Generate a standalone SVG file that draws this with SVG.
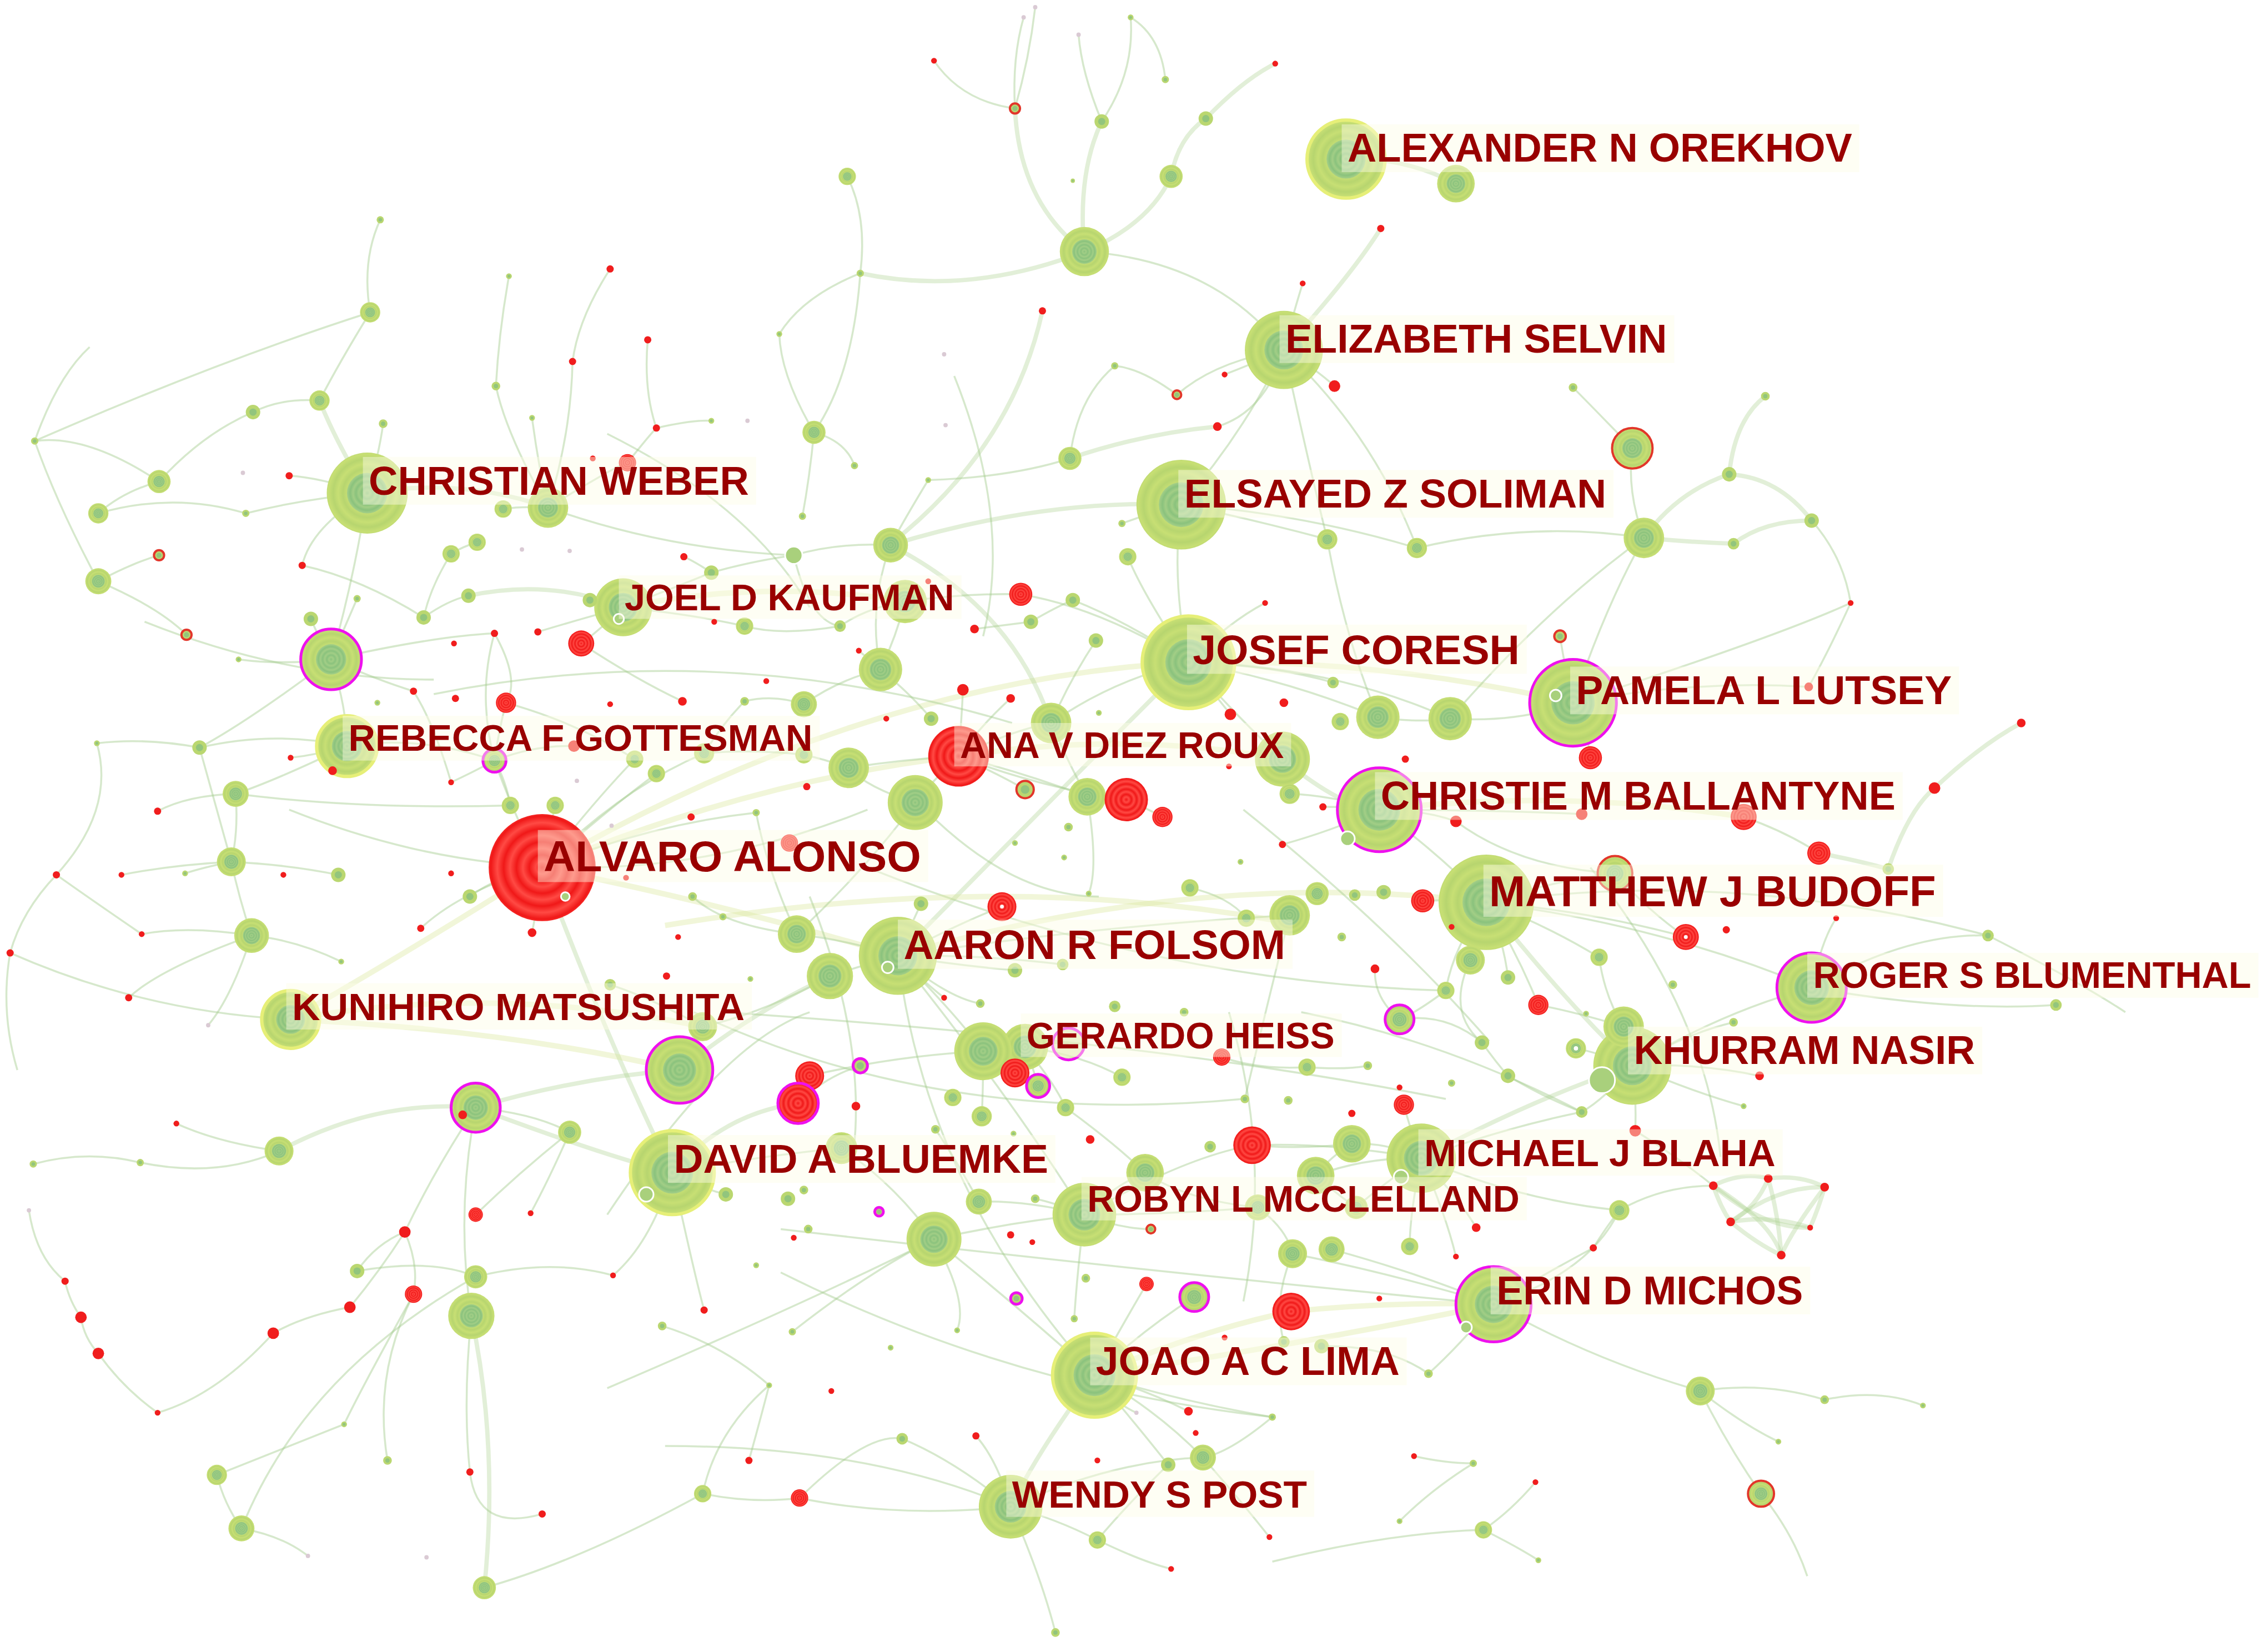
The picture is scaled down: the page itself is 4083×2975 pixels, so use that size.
<svg xmlns="http://www.w3.org/2000/svg" xmlns:xlink="http://www.w3.org/1999/xlink" width="4083" height="2975" viewBox="0 0 4083 2975">
<style>
.e{fill:none;stroke:#a3cb8d;stroke-width:1.35;stroke-opacity:.45}
.w{fill:none;stroke:#aed294;stroke-width:3;stroke-opacity:.36}
.y{fill:none;stroke:#dbe8a0;stroke-width:3.8;stroke-opacity:.4}
.lb{font-family:"Liberation Sans",Arial,sans-serif;font-weight:700;fill:#990000}
.bg{fill:#fcfce6;opacity:.45}
</style>
<defs>
<radialGradient id="go" r="0.06" spreadMethod="reflect"><stop offset="0" stop-color="#c7df74"/><stop offset="1" stop-color="#b7d56f"/></radialGradient>
<radialGradient id="gi" r="0.07" spreadMethod="reflect"><stop offset="0" stop-color="#8ac27d"/><stop offset="1" stop-color="#a2ce86"/></radialGradient>
<radialGradient id="rg" r="0.06" spreadMethod="reflect"><stop offset="0" stop-color="#f01818"/><stop offset="1" stop-color="#ff4a44"/></radialGradient>
<g id="G"><circle r="1" fill="url(#go)"/><circle r=".5" fill="url(#gi)"/></g>
<g id="g"><circle r="1" fill="#bad770"/><circle r=".5" fill="#92c57d"/></g>
<g id="R"><circle r="1" fill="url(#rg)"/></g>
<g id="r"><circle r="1" fill="#f01d1d"/></g>
<g id="M"><circle r="1" fill="none" stroke="#ee11ee" stroke-width="5" vector-effect="non-scaling-stroke"/></g>
<g id="O"><circle r="1" fill="none" stroke="#e2362a" stroke-width="4" vector-effect="non-scaling-stroke"/></g>
<g id="Y"><circle r="1" fill="none" stroke="#e6ef78" stroke-width="6" vector-effect="non-scaling-stroke"/></g>
<g id="W"><circle r="1" fill="#a9d07c" stroke="#ffffff" stroke-width="3" vector-effect="non-scaling-stroke"/></g>
<g id="P"><circle r="1" fill="#dacad4"/></g>
</defs>
<rect width="4083" height="2975" fill="#ffffff"/>
<g transform="scale(2.604)">
<g id="edges">
<path class="w" d="M750,174 Q705,140 702,75"/><path class="e" d="M702,75 Q665,70 646,42"/><path class="e" d="M702,75 Q700,40 708,12"/><path class="e" d="M702,75 Q712,40 716,5"/>
<path class="w" d="M750,174 Q745,120 762,84"/><path class="e" d="M762,84 Q748,50 746,24"/><path class="e" d="M762,84 Q785,50 782,12"/><path class="e" d="M782,12 Q803,25 806,55"/>
<path class="w" d="M750,174 Q795,155 810,122"/><path class="w" d="M810,122 Q815,95 834,82"/><path class="w" d="M834,82 Q860,55 882,44"/>
<path class="w" d="M750,174 Q670,205 595,189"/><path class="e" d="M595,189 Q600,150 586,122"/><path class="e" d="M595,189 Q555,205 539,231"/>
<path class="e" d="M750,174 Q840,180 888,242"/><path class="w" d="M721,215 Q700,310 616,376"/><path class="w" d="M888,242 Q935,190 955,158"/>
<path class="e" d="M888,242 Q895,215 901,196"/><path class="e" d="M888,242 Q875,285 842,295"/><path class="w" d="M842,295 Q790,300 740,317"/>
<path class="e" d="M888,242 Q910,255 923,267"/><path class="e" d="M888,242 Q840,250 814,273"/><path class="e" d="M814,273 Q790,255 771,253"/>
<path class="e" d="M771,253 Q745,275 740,317"/><path class="e" d="M888,242 Q860,300 817,349"/><path class="e" d="M888,242 Q905,320 918,373"/>
<path class="e" d="M888,242 Q950,300 980,379"/><path class="e" d="M888,242 Q870,250 847,259"/><path class="w" d="M817,349 Q720,345 616,377"/>
<path class="e" d="M563,299 Q540,260 539,231"/><path class="e" d="M563,299 Q560,330 555,357"/><path class="e" d="M563,299 Q585,305 591,322"/>
<path class="e" d="M642,332 Q625,360 616,377"/><path class="e" d="M616,377 Q580,375 549,384"/><path class="w" d="M931,110 Q970,108 1007,127"/>
<path class="e" d="M563,299 Q590,260 595,189"/><path class="e" d="M740,317 Q700,330 642,332"/>
<path class="w" d="M254,341 Q232,305 221,277"/><path class="e" d="M221,277 Q195,275 175,285"/><path class="e" d="M175,285 Q140,300 110,333"/>
<path class="e" d="M110,333 Q60,300 24,305"/><path class="e" d="M110,333 Q85,340 68,355"/><path class="e" d="M68,355 Q120,340 170,355"/>
<path class="e" d="M170,355 Q210,345 254,341"/><path class="e" d="M254,341 Q262,315 265,293"/><path class="e" d="M254,341 Q220,330 200,329"/>
<path class="w" d="M254,341 Q320,330 379,351"/><path class="e" d="M379,351 Q350,300 343,267"/><path class="e" d="M379,351 Q395,300 396,250"/>
<path class="e" d="M379,351 Q360,350 348,352"/><path class="e" d="M254,341 Q245,400 229,456"/><path class="e" d="M254,341 Q215,365 209,391"/>
<path class="e" d="M68,402 Q90,390 110,384"/><path class="e" d="M68,402 Q110,420 129,439"/><path class="e" d="M68,402 Q40,350 24,305"/>
<path class="e" d="M256,216 Q235,250 221,277"/><path class="e" d="M263,152 Q250,180 256,216"/><path class="e" d="M352,191 Q345,230 343,267"/>
<path class="e" d="M422,186 Q400,220 396,250"/><path class="e" d="M379,351 Q430,320 434,320"/><path class="e" d="M434,320 Q450,300 454,296"/>
<path class="e" d="M454,296 Q480,290 492,291"/><path class="e" d="M448,235 Q445,270 454,296"/><path class="e" d="M368,289 Q372,320 379,351"/>
<path class="e" d="M229,456 Q195,460 165,456"/><path class="e" d="M229,456 Q240,430 247,414"/><path class="e" d="M229,456 Q220,440 215,428"/>
<path class="e" d="M229,456 Q260,470 286,478"/><path class="e" d="M229,456 Q240,490 240,516"/><path class="e" d="M293,427 Q310,415 324,412"/>
<path class="w" d="M324,412 Q380,400 431,420"/><path class="e" d="M431,420 Q415,415 408,415"/><path class="e" d="M431,420 Q412,438 402,445"/>
<path class="e" d="M431,420 Q395,430 372,437"/><path class="e" d="M431,420 Q480,425 515,433"/><path class="e" d="M431,420 Q470,405 492,396"/>
<path class="e" d="M330,375 Q320,378 312,383"/><path class="e" d="M312,383 Q298,405 293,427"/><path class="e" d="M209,391 Q250,400 293,427"/>
<path class="e" d="M342,438 Q360,470 350,486"/><path class="y" d="M431,420 Q530,400 626,416"/>
<path class="e" d="M240,516 Q290,508 342,526"/><path class="e" d="M240,516 Q190,505 138,517"/><path class="e" d="M138,517 Q100,510 67,514"/>
<path class="e" d="M240,516 Q220,522 201,524"/><path class="e" d="M240,516 Q190,540 163,549"/><path class="e" d="M163,549 Q130,550 109,561"/>
<path class="e" d="M163,549 Q165,575 160,596"/><path class="e" d="M342,526 Q350,540 353,557"/><path class="e" d="M342,526 Q358,570 375,600"/>
<path class="e" d="M342,526 Q325,535 312,541"/><path class="e" d="M342,526 Q370,515 397,516"/><path class="e" d="M342,526 Q345,505 350,486"/>
<path class="e" d="M342,526 Q330,480 342,438"/><path class="e" d="M375,600 Q380,575 384,557"/><path class="e" d="M375,600 Q410,555 439,525"/>
<path class="e" d="M375,600 Q420,560 454,535"/><path class="e" d="M375,600 Q430,545 487,521"/><path class="e" d="M375,600 Q450,570 523,562"/>
<path class="y" d="M375,600 Q500,625 621,661"/><path class="w" d="M375,600 Q420,720 465,811"/><path class="e" d="M375,600 Q372,625 368,645"/>
<path class="e" d="M375,600 Q320,615 291,642"/><path class="e" d="M375,600 Q345,605 325,620"/><path class="y" d="M375,600 Q280,660 201,705"/>
<path class="y" d="M375,600 Q520,540 663,523"/><path class="y" d="M375,600 Q600,470 822,458"/>
<path class="e" d="M160,596 Q120,598 84,605"/><path class="e" d="M160,596 Q140,600 128,604"/><path class="e" d="M160,596 Q200,598 234,605"/>
<path class="e" d="M39,605 Q15,630 7,659"/><path class="e" d="M174,647 Q130,640 98,646"/><path class="e" d="M174,647 Q110,670 89,690"/>
<path class="e" d="M174,647 Q160,690 144,709"/><path class="e" d="M174,647 Q205,650 236,665"/><path class="e" d="M98,646 Q60,620 39,605"/>
<path class="e" d="M160,596 Q165,620 174,647"/><path class="y" d="M201,705 Q340,680 486,710"/><path class="y" d="M201,705 Q350,712 470,740"/>
<path class="e" d="M486,710 Q475,725 470,740"/><path class="w" d="M470,740 Q400,745 329,766"/><path class="w" d="M329,766 Q260,760 193,796"/>
<path class="e" d="M193,796 Q150,790 122,777"/><path class="e" d="M193,796 Q150,815 97,804"/><path class="e" d="M97,804 Q60,795 23,805"/>
<path class="e" d="M329,766 Q370,770 394,783"/><path class="e" d="M394,783 Q380,815 367,839"/><path class="e" d="M394,783 Q360,810 329,840"/>
<path class="e" d="M329,766 Q315,840 326,910"/><path class="e" d="M329,766 Q300,810 280,852"/><path class="e" d="M280,852 Q260,860 247,879"/>
<path class="e" d="M280,852 Q262,880 242,904"/><path class="e" d="M280,852 Q290,875 286,895"/><path class="e" d="M242,904 Q210,910 189,922"/>
<path class="e" d="M189,922 Q150,965 109,977"/><path class="e" d="M109,977 Q85,960 68,936"/><path class="e" d="M68,936 Q58,925 56,911"/>
<path class="e" d="M56,911 Q48,900 45,886"/><path class="e" d="M45,886 Q25,870 20,837"/><path class="w" d="M326,910 Q345,1000 335,1098"/>
<path class="e" d="M326,910 Q320,970 325,1018"/><path class="e" d="M325,1018 Q330,1060 375,1047"/><path class="e" d="M167,1057 Q155,1040 150,1020"/>
<path class="e" d="M167,1057 Q195,1062 213,1076"/><path class="e" d="M167,1057 Q210,950 329,883"/><path class="e" d="M268,1010 Q258,950 286,895"/>
<path class="e" d="M329,883 Q380,870 424,882"/><path class="e" d="M424,882 Q450,860 465,811"/><path class="e" d="M465,811 Q485,822 502,826"/>
<path class="e" d="M465,811 Q480,880 487,906"/><path class="e" d="M458,917 Q500,930 532,958"/><path class="e" d="M532,958 Q495,990 486,1033"/>
<path class="e" d="M518,1010 Q525,985 532,958"/><path class="e" d="M247,879 Q300,870 329,883"/><path class="e" d="M238,985 Q250,960 286,895"/>
<path class="e" d="M621,661 Q595,668 574,675"/><path class="e" d="M621,661 Q585,650 551,646"/><path class="e" d="M621,661 Q630,640 637,625"/>
<path class="e" d="M621,661 Q660,640 693,627"/><path class="e" d="M621,661 Q665,668 702,671"/><path class="e" d="M621,661 Q680,660 735,667"/>
<path class="e" d="M621,661 Q640,680 653,690"/><path class="e" d="M621,661 Q655,690 678,694"/><path class="e" d="M621,661 Q660,700 680,727"/>
<path class="w" d="M621,661 Q720,560 822,458"/><path class="y" d="M621,661 Q830,600 1028,624"/><path class="e" d="M621,661 Q700,760 750,840"/>
<path class="e" d="M621,661 Q640,820 757,951"/><path class="e" d="M621,661 Q760,640 892,633"/>
<path class="e" d="M709,724 Q725,720 739,722"/><path class="e" d="M709,724 Q700,735 702,742"/><path class="e" d="M709,724 Q715,740 718,751"/>
<path class="e" d="M709,724 Q730,750 737,766"/><path class="e" d="M709,724 Q750,730 776,745"/><path class="e" d="M680,727 Q680,755 679,772"/>
<path class="e" d="M680,727 Q620,730 560,744"/><path class="e" d="M560,744 Q555,752 552,763"/><path class="w" d="M552,763 Q500,770 465,811"/>
<path class="e" d="M595,737 Q570,745 552,763"/>
<path class="e" d="M750,840 Q770,820 792,811"/><path class="e" d="M750,840 Q730,832 716,829"/><path class="e" d="M750,840 Q775,850 796,850"/>
<path class="e" d="M750,840 Q745,880 743,912"/><path class="e" d="M750,840 Q700,845 646,857"/><path class="e" d="M750,840 Q710,830 677,831"/>
<path class="e" d="M750,840 Q820,800 866,792"/><path class="e" d="M750,840 Q810,840 870,835"/>
<path class="w" d="M757,951 Q720,1000 699,1042"/><path class="e" d="M757,951 Q800,975 832,1008"/><path class="e" d="M757,951 Q790,990 808,1013"/>
<path class="e" d="M757,951 Q790,960 822,976"/><path class="e" d="M757,951 Q770,970 786,977"/><path class="e" d="M757,951 Q820,970 880,980"/>
<path class="e" d="M757,951 Q790,920 826,897"/><path class="e" d="M757,951 Q780,910 793,888"/><path class="y" d="M757,951 Q830,920 893,907"/>
<path class="e" d="M757,951 Q700,900 646,857"/><path class="e" d="M699,1042 Q730,1050 759,1065"/><path class="e" d="M699,1042 Q620,1050 553,1036"/>
<path class="e" d="M699,1042 Q690,1010 675,993"/><path class="e" d="M699,1042 Q720,1090 730,1129"/><path class="e" d="M699,1042 Q770,1010 832,1008"/>
<path class="e" d="M832,1008 Q860,1040 878,1063"/><path class="e" d="M759,1065 Q790,1080 810,1085"/>
<path class="e" d="M983,801 Q945,800 910,813"/><path class="e" d="M983,801 Q960,790 935,791"/><path class="e" d="M983,801 Q975,780 971,764"/>
<path class="e" d="M983,801 Q1010,830 1021,849"/><path class="e" d="M983,801 Q1000,840 1007,869"/><path class="e" d="M983,801 Q975,840 975,862"/>
<path class="e" d="M983,801 Q955,820 938,835"/><path class="e" d="M983,801 Q1040,780 1094,769"/><path class="w" d="M983,801 Q1060,760 1129,737"/>
<path class="e" d="M983,801 Q1050,830 1120,837"/><path class="e" d="M983,801 Q920,790 866,792"/>
<path class="e" d="M1033,902 Q1070,880 1102,863"/><path class="e" d="M1033,902 Q960,880 894,867"/><path class="e" d="M1033,902 Q980,880 921,864"/>
<path class="e" d="M1033,902 Q1010,930 988,950"/><path class="e" d="M1033,902 Q1100,940 1176,962"/><path class="y" d="M1033,902 Q960,900 893,907"/>
<path class="y" d="M1033,902 Q900,930 757,951"/>
<path class="e" d="M1028,624 Q1005,622 984,623"/><path class="e" d="M1028,624 Q1020,645 1017,664"/><path class="e" d="M1028,624 Q1040,650 1043,676"/>
<path class="e" d="M1028,624 Q1005,655 1000,685"/><path class="e" d="M1028,624 Q1050,660 1064,695"/><path class="e" d="M1028,624 Q1070,640 1106,662"/>
<path class="e" d="M1028,624 Q1070,610 1117,604"/><path class="e" d="M1028,624 Q1100,630 1166,648"/><path class="w" d="M1028,624 Q1080,690 1129,737"/>
<path class="e" d="M1028,624 Q1150,640 1253,683"/><path class="e" d="M1253,683 Q1320,645 1375,647"/><path class="e" d="M1253,683 Q1350,700 1422,695"/>
<path class="e" d="M1253,683 Q1260,650 1270,635"/>
<path class="e" d="M1129,737 Q1125,722 1123,710"/><path class="e" d="M1129,737 Q1115,745 1108,747"/><path class="e" d="M1129,737 Q1105,728 1090,725"/>
<path class="e" d="M1129,737 Q1110,760 1094,769"/><path class="e" d="M1129,737 Q1132,760 1131,782"/><path class="e" d="M1129,737 Q1175,735 1217,744"/>
<path class="e" d="M1129,737 Q1170,755 1206,765"/><path class="e" d="M1129,737 Q1165,715 1199,707"/><path class="e" d="M1129,737 Q1190,700 1253,683"/>
<path class="w" d="M1185,820 Q1205,810 1223,815"/><path class="w" d="M1223,815 Q1245,812 1262,821"/><path class="w" d="M1185,820 Q1190,835 1197,845"/>
<path class="w" d="M1197,845 Q1225,840 1252,849"/><path class="w" d="M1223,815 Q1230,840 1232,868"/><path class="w" d="M1197,845 Q1215,860 1232,868"/>
<path class="w" d="M1185,820 Q1220,850 1252,849"/><path class="w" d="M1262,821 Q1240,850 1232,868"/><path class="w" d="M1223,815 Q1215,835 1197,845"/>
<path class="w" d="M1185,820 Q1225,845 1232,868"/><path class="w" d="M1262,821 Q1258,835 1252,849"/><path class="w" d="M1197,845 Q1230,820 1262,821"/>
<path class="e" d="M1131,782 Q1160,800 1185,820"/><path class="e" d="M1120,837 Q1150,820 1185,820"/><path class="e" d="M1102,863 Q1110,850 1120,837"/>
<path class="e" d="M1176,962 Q1220,955 1262,968"/><path class="e" d="M1262,968 Q1300,960 1330,972"/><path class="e" d="M1176,962 Q1205,985 1230,997"/>
<path class="e" d="M1176,962 Q1195,1000 1218,1033"/><path class="e" d="M1218,1033 Q1240,1060 1250,1090"/>
<path class="e" d="M822,458 Q770,470 727,500"/><path class="e" d="M822,458 Q840,480 851,494"/><path class="e" d="M822,458 Q850,430 875,417"/>
<path class="e" d="M822,458 Q860,500 887,525"/><path class="e" d="M822,458 Q890,470 953,496"/><path class="e" d="M822,458 Q920,460 1003,497"/>
<path class="y" d="M822,458 Q950,455 1088,486"/><path class="e" d="M822,458 Q880,460 922,472"/><path class="e" d="M822,458 Q810,400 817,349"/>
<path class="e" d="M822,458 Q780,430 742,415"/><path class="e" d="M822,458 Q760,420 706,411"/><path class="e" d="M822,458 Q790,410 780,385"/>
<path class="e" d="M1088,486 Q1082,460 1079,440"/><path class="e" d="M1088,486 Q1098,505 1100,524"/><path class="e" d="M1088,486 Q1110,420 1137,372"/>
<path class="e" d="M1088,486 Q1170,470 1251,475"/><path class="e" d="M1088,486 Q1230,440 1280,417"/><path class="e" d="M1137,372 Q1125,340 1129,310"/>
<path class="w" d="M1137,372 Q1160,340 1196,328"/><path class="w" d="M1137,372 Q1170,375 1199,376"/><path class="w" d="M1196,328 Q1200,290 1221,274"/>
<path class="w" d="M1196,328 Q1230,330 1253,360"/><path class="w" d="M1199,376 Q1220,360 1253,360"/><path class="e" d="M1129,310 Q1100,280 1088,268"/>
<path class="e" d="M1253,360 Q1275,385 1280,417"/><path class="e" d="M1280,417 Q1265,450 1251,475"/>
<path class="e" d="M954,560 Q985,560 1007,568"/><path class="e" d="M954,560 Q940,575 932,580"/><path class="e" d="M954,560 Q920,550 892,549"/>
<path class="e" d="M954,560 Q935,558 915,558"/><path class="e" d="M954,560 Q1030,560 1094,563"/><path class="y" d="M954,560 Q1080,545 1206,565"/>
<path class="e" d="M954,560 Q920,575 887,584"/><path class="e" d="M954,560 Q995,590 1028,624"/><path class="e" d="M1206,565 Q1235,575 1258,590"/>
<path class="w" d="M1258,590 Q1285,595 1306,601"/><path class="w" d="M1306,601 Q1320,560 1338,545"/><path class="w" d="M1338,545 Q1370,515 1398,500"/>
<path class="e" d="M663,523 Q625,525 587,531"/><path class="e" d="M663,523 Q645,540 633,555"/><path class="e" d="M663,523 Q690,535 709,546"/>
<path class="e" d="M663,523 Q710,535 752,551"/><path class="e" d="M663,523 Q720,545 779,553"/><path class="e" d="M663,523 Q700,505 727,500"/>
<path class="e" d="M663,523 Q680,500 699,483"/><path class="e" d="M663,523 Q665,500 666,477"/><path class="y" d="M663,523 Q780,505 887,525"/>
<path class="e" d="M779,553 Q795,560 804,565"/><path class="e" d="M752,551 Q765,550 779,553"/>
<path class="e" d="M817,349 Q900,355 980,379"/><path class="e" d="M817,349 Q870,360 918,373"/><path class="e" d="M817,349 Q795,355 776,362"/>
<path class="e" d="M980,379 Q1060,360 1137,372"/><path class="e" d="M918,373 Q930,440 953,496"/><path class="e" d="M1003,497 Q1070,420 1137,372"/>
<path class="e" d="M549,384 Q520,388 492,396"/><path class="e" d="M492,396 Q480,388 473,385"/><path class="e" d="M609,463 Q620,440 626,416"/>
<path class="e" d="M609,463 Q600,455 594,450"/><path class="e" d="M609,463 Q630,480 644,497"/><path class="e" d="M609,463 Q580,470 556,487"/>
<path class="e" d="M556,487 Q535,480 515,485"/><path class="e" d="M515,485 Q500,500 487,521"/><path class="e" d="M487,521 Q520,518 556,522"/>
<path class="e" d="M556,522 Q570,525 587,531"/><path class="e" d="M626,416 Q670,410 706,411"/><path class="e" d="M742,415 Q730,420 713,430"/>
<path class="e" d="M713,430 Q690,433 674,435"/><path class="e" d="M758,443 Q740,470 727,500"/>
<path class="e" d="M24,305 Q150,250 256,216"/><path class="e" d="M7,659 Q100,700 201,705"/><path class="e" d="M67,514 Q80,560 39,605"/>
<path class="e" d="M300,480 Q500,440 700,500"/><path class="e" d="M200,560 Q400,640 600,560"/><path class="e" d="M480,700 Q650,780 860,760"/>
<path class="e" d="M600,600 Q800,680 1000,685"/><path class="e" d="M900,700 Q1000,720 1094,769"/><path class="e" d="M540,880 Q700,960 880,980"/>
<path class="e" d="M420,960 Q560,900 646,857"/><path class="e" d="M460,1000 Q600,1000 699,1042"/><path class="y" d="M460,640 Q700,600 900,640"/>
<path class="e" d="M500,700 Q800,720 1000,760"/><path class="e" d="M540,850 Q800,880 1033,902"/><path class="e" d="M1028,624 Q1200,600 1375,647"/>
<path class="e" d="M1375,647 Q1440,680 1470,700"/><path class="e" d="M880,1080 Q960,1060 1026,1058"/><path class="e" d="M968,1052 Q990,1030 1019,1012"/>
<path class="e" d="M1026,1058 Q1050,1070 1064,1079"/><path class="e" d="M978,1007 Q1000,1012 1019,1012"/><path class="e" d="M1062,1025 Q1045,1045 1026,1058"/>
<path class="e" d="M100,430 Q200,470 300,470"/><path class="e" d="M420,300 Q520,350 560,420"/><path class="e" d="M660,260 Q700,360 680,440"/>
<path class="e" d="M860,560 Q960,640 1030,720"/><path class="e" d="M1100,600 Q1180,700 1190,800"/><path class="e" d="M560,620 Q600,720 590,800"/>
<path class="e" d="M420,840 Q500,720 560,700"/><path class="e" d="M850,700 Q880,800 860,900"/><path class="e" d="M640,560 Q700,620 760,620"/>
<path class="e" d="M379,351 Q460,380 549,384"/><path class="e" d="M616,377 Q600,420 609,463"/><path class="e" d="M549,384 Q560,430 581,433"/>
<path class="e" d="M581,433 Q600,420 626,416"/><path class="e" d="M515,433 Q540,440 581,433"/><path class="e" d="M402,445 Q440,470 472,485"/>
<path class="e" d="M350,486 Q400,500 439,525"/><path class="e" d="M286,478 Q300,500 312,541"/><path class="e" d="M163,549 Q250,560 353,557"/>
<path class="e" d="M138,517 Q150,560 160,596"/><path class="e" d="M229,456 Q170,500 138,517"/><path class="e" d="M229,456 Q300,440 342,438"/>
<path class="e" d="M551,646 Q530,600 523,562"/><path class="e" d="M574,675 Q530,700 486,710"/><path class="e" d="M551,646 Q500,640 479,620"/>
<path class="e" d="M486,710 Q450,690 422,681"/><path class="e" d="M465,811 Q520,800 582,794"/><path class="e" d="M582,794 Q620,820 646,857"/>
<path class="e" d="M646,857 Q600,880 548,921"/><path class="e" d="M646,857 Q670,900 662,920"/><path class="e" d="M677,831 Q660,800 647,781"/>
<path class="e" d="M737,766 Q770,790 792,811"/><path class="e" d="M792,811 Q820,830 870,835"/><path class="e" d="M870,835 Q890,850 894,867"/>
<path class="e" d="M910,813 Q930,830 938,835"/><path class="e" d="M935,791 Q920,800 910,813"/><path class="e" d="M866,792 Q900,795 935,791"/>
<path class="e" d="M845,731 Q870,740 904,738"/><path class="e" d="M904,738 Q930,740 946,737"/><path class="e" d="M892,633 Q880,680 861,760"/>
<path class="e" d="M1017,664 Q1000,700 1025,721"/><path class="e" d="M1025,721 Q1035,735 1043,744"/><path class="e" d="M968,705 Q1000,700 1025,721"/>
<path class="e" d="M968,705 Q950,690 951,670"/><path class="e" d="M1000,685 Q980,700 968,705"/><path class="e" d="M727,500 Q740,530 752,551"/>
<path class="e" d="M633,555 Q600,600 551,646"/><path class="e" d="M587,531 Q600,545 633,555"/><path class="e" d="M752,551 Q760,600 753,618"/>
<path class="e" d="M823,614 Q850,620 862,635"/><path class="e" d="M953,496 Q980,500 1003,497"/><path class="e" d="M1003,497 Q1050,500 1088,486"/>
<path class="e" d="M1007,568 Q1050,600 1117,604"/><path class="e" d="M1117,604 Q1140,630 1166,648"/><path class="e" d="M1106,662 Q1110,690 1123,710"/>
<path class="e" d="M1064,695 Q1090,700 1123,710"/><path class="e" d="M1043,744 Q1070,760 1094,769"/><path class="e" d="M1120,837 Q1100,880 1033,902"/>
<path class="e" d="M894,867 Q880,900 888,928"/><path class="e" d="M914,931 Q960,930 988,950"/><path class="e" d="M832,1008 Q850,1005 880,980"/>
<path class="e" d="M808,1013 Q780,1040 759,1065"/><path class="e" d="M624,995 Q660,1010 699,1042"/><path class="e" d="M553,1036 Q600,990 624,995"/>
<path class="e" d="M486,1033 Q520,1040 553,1036"/><path class="e" d="M335,1098 Q400,1080 486,1033"/><path class="e" d="M150,1020 Q200,1000 238,985"/>
<path class="e" d="M24,305 Q40,260 62,240"/><path class="e" d="M7,659 Q0,700 12,740"/><path class="w" d="M470,740 Q520,700 574,675"/>
<path class="w" d="M329,766 Q420,800 465,811"/><path class="w" d="M616,377 Q700,420 727,500"/><path class="w" d="M887,525 Q930,560 954,560"/>
</g>
<g id="nodes">
<g id="n-orekhov"><use href="#G" transform="translate(931 110) scale(27)"/><use href="#Y" transform="translate(931 110) scale(27)"/></g>
<g id="n-selvin"><use href="#G" transform="translate(888 242) scale(27)"/></g>
<g id="n-weber"><use href="#G" transform="translate(254 341) scale(28)"/></g>
<g id="n-soliman"><use href="#G" transform="translate(817 349) scale(31)"/></g>
<g id="n-kaufman"><use href="#G" transform="translate(431 420) scale(20)"/><use href="#W" transform="translate(428 428) scale(3.5)"/></g>
<g id="n-coresh"><use href="#G" transform="translate(822 458) scale(32)"/><use href="#Y" transform="translate(822 458) scale(32)"/></g>
<g id="n-lutsey"><use href="#G" transform="translate(1088 486) scale(30)"/><use href="#M" transform="translate(1088 486) scale(30)"/><use href="#W" transform="translate(1076 481) scale(4)"/></g>
<g id="n-gottesman"><use href="#G" transform="translate(240 516) scale(21)"/><use href="#Y" transform="translate(240 516) scale(21)"/></g>
<g id="n-diezroux"><use href="#R" transform="translate(663 523) scale(21)"/></g>
<g id="n-ballantyne"><use href="#G" transform="translate(954 560) scale(29)"/><use href="#M" transform="translate(954 560) scale(29)"/><use href="#W" transform="translate(932 580) scale(5)"/></g>
<g id="n-alonso"><use href="#R" transform="translate(375 600) scale(37)"/><use href="#W" transform="translate(391 620) scale(3)"/></g>
<g id="n-budoff"><use href="#G" transform="translate(1028 624) scale(33)"/></g>
<g id="n-folsom"><use href="#G" transform="translate(621 661) scale(27)"/><use href="#W" transform="translate(614 669) scale(4)"/></g>
<g id="n-blumenthal"><use href="#G" transform="translate(1253 683) scale(24)"/><use href="#M" transform="translate(1253 683) scale(24)"/></g>
<g id="n-matsushita"><use href="#G" transform="translate(201 705) scale(20)"/><use href="#Y" transform="translate(201 705) scale(20)"/></g>
<g id="n-heiss"><use href="#G" transform="translate(709 724) scale(16)"/></g>
<g id="n-nasir"><use href="#G" transform="translate(1129 737) scale(27)"/></g>
<g id="n-bluemke"><use href="#G" transform="translate(465 811) scale(29)"/><use href="#Y" transform="translate(465 811) scale(29)"/><use href="#W" transform="translate(447 826) scale(5)"/></g>
<g id="n-blaha"><use href="#G" transform="translate(983 801) scale(24)"/><use href="#W" transform="translate(969 814) scale(5)"/></g>
<g id="n-mcclelland"><use href="#G" transform="translate(750 840) scale(22)"/></g>
<g id="n-michos"><use href="#G" transform="translate(1033 902) scale(26)"/><use href="#M" transform="translate(1033 902) scale(26)"/><use href="#W" transform="translate(1014 918) scale(4)"/></g>
<g id="n-lima"><use href="#G" transform="translate(757 951) scale(29)"/><use href="#Y" transform="translate(757 951) scale(29)"/></g>
<g id="n-post"><use href="#G" transform="translate(699 1042) scale(22)"/></g>
<g id="n001"><use href="#G" transform="translate(586 122) scale(6)"/></g>
<g id="n002"><use href="#g" transform="translate(782 12) scale(2)"/></g>
<g id="n003"><use href="#g" transform="translate(806 55) scale(2.5)"/></g>
<g id="n004"><use href="#g" transform="translate(762 84) scale(5)"/></g>
<g id="n005"><use href="#g" transform="translate(834 82) scale(5)"/></g>
<g id="n006"><use href="#G" transform="translate(810 122) scale(8)"/></g>
<g id="n007"><use href="#G" transform="translate(750 174) scale(17)"/></g>
<g id="n008"><use href="#g" transform="translate(742 125) scale(1.5)"/></g>
<g id="n009"><use href="#g" transform="translate(595 189) scale(2.5)"/></g>
<g id="n010"><use href="#g" transform="translate(539 231) scale(2)"/></g>
<g id="n011"><use href="#G" transform="translate(1007 127) scale(13)"/></g>
<g id="n012"><use href="#g" transform="translate(771 253) scale(2.5)"/></g>
<g id="n013"><use href="#G" transform="translate(740 317) scale(8)"/></g>
<g id="n014"><use href="#G" transform="translate(563 299) scale(8)"/></g>
<g id="n015"><use href="#g" transform="translate(591 322) scale(2.5)"/></g>
<g id="n016"><use href="#g" transform="translate(642 332) scale(2)"/></g>
<g id="n017"><use href="#g" transform="translate(555 357) scale(2.5)"/></g>
<g id="n018"><use href="#g" transform="translate(776 362) scale(2.5)"/></g>
<g id="n019"><use href="#G" transform="translate(616 377) scale(12)"/></g>
<g id="n020"><use href="#G" transform="translate(918 373) scale(7)"/></g>
<g id="n021"><use href="#G" transform="translate(980 379) scale(7)"/></g>
<g id="n022"><use href="#g" transform="translate(263 152) scale(2.5)"/></g>
<g id="n023"><use href="#g" transform="translate(352 191) scale(2)"/></g>
<g id="n024"><use href="#G" transform="translate(256 216) scale(7)"/></g>
<g id="n025"><use href="#g" transform="translate(24 305) scale(2.5)"/></g>
<g id="n026"><use href="#g" transform="translate(175 285) scale(5)"/></g>
<g id="n027"><use href="#G" transform="translate(221 277) scale(7)"/></g>
<g id="n028"><use href="#g" transform="translate(265 293) scale(3)"/></g>
<g id="n029"><use href="#G" transform="translate(110 333) scale(8)"/></g>
<g id="n030"><use href="#G" transform="translate(68 355) scale(7)"/></g>
<g id="n031"><use href="#g" transform="translate(170 355) scale(2.5)"/></g>
<g id="n032"><use href="#G" transform="translate(379 351) scale(14)"/></g>
<g id="n033"><use href="#G" transform="translate(348 352) scale(6)"/></g>
<g id="n034"><use href="#g" transform="translate(368 289) scale(2)"/></g>
<g id="n035"><use href="#g" transform="translate(492 291) scale(2)"/></g>
<g id="n036"><use href="#g" transform="translate(343 267) scale(3)"/></g>
<g id="n037"><use href="#G" transform="translate(68 402) scale(9)"/></g>
<g id="n038"><use href="#G" transform="translate(330 375) scale(6)"/></g>
<g id="n039"><use href="#G" transform="translate(312 383) scale(6)"/></g>
<g id="n040"><use href="#g" transform="translate(492 396) scale(5)"/></g>
<g id="n041"><use href="#g" transform="translate(247 414) scale(2.5)"/></g>
<g id="n042"><use href="#g" transform="translate(324 412) scale(5)"/></g>
<g id="n043"><use href="#g" transform="translate(408 415) scale(5)"/></g>
<g id="n044"><use href="#G" transform="translate(515 433) scale(6)"/></g>
<g id="n045"><use href="#g" transform="translate(215 428) scale(5)"/></g>
<g id="n046"><use href="#g" transform="translate(293 427) scale(5)"/></g>
<g id="n047"><use href="#g" transform="translate(165 456) scale(2)"/></g>
<g id="n048"><use href="#g" transform="translate(261 486) scale(2)"/></g>
<g id="n049"><use href="#g" transform="translate(515 485) scale(3)"/></g>
<g id="n050"><use href="#g" transform="translate(67 514) scale(2)"/></g>
<g id="n051"><use href="#g" transform="translate(138 517) scale(5)"/></g>
<g id="n052"><use href="#G" transform="translate(163 549) scale(9)"/></g>
<g id="n053"><use href="#G" transform="translate(439 525) scale(6)"/></g>
<g id="n054"><use href="#G" transform="translate(454 535) scale(6)"/></g>
<g id="n055"><use href="#G" transform="translate(487 521) scale(7)"/></g>
<g id="n056"><use href="#G" transform="translate(353 557) scale(6)"/></g>
<g id="n057"><use href="#G" transform="translate(384 557) scale(6)"/></g>
<g id="n058"><use href="#g" transform="translate(523 562) scale(2.5)"/></g>
<g id="n059"><use href="#G" transform="translate(160 596) scale(10)"/></g>
<g id="n060"><use href="#g" transform="translate(128 604) scale(2)"/></g>
<g id="n061"><use href="#g" transform="translate(234 605) scale(5)"/></g>
<g id="n062"><use href="#g" transform="translate(325 620) scale(5)"/></g>
<g id="n063"><use href="#g" transform="translate(479 620) scale(3)"/></g>
<g id="n064"><use href="#g" transform="translate(500 634) scale(2.5)"/></g>
<g id="n065"><use href="#g" transform="translate(519 677) scale(2)"/></g>
<g id="n066"><use href="#g" transform="translate(422 681) scale(4)"/></g>
<g id="n067"><use href="#G" transform="translate(174 647) scale(12)"/></g>
<g id="n068"><use href="#g" transform="translate(236 665) scale(2)"/></g>
<g id="n069"><use href="#G" transform="translate(486 710) scale(10)"/></g>
<g id="n070"><use href="#G" transform="translate(394 783) scale(8)"/></g>
<g id="n071"><use href="#g" transform="translate(502 826) scale(5)"/></g>
<g id="n072"><use href="#G" transform="translate(193 796) scale(10)"/></g>
<g id="n073"><use href="#g" transform="translate(97 804) scale(2.5)"/></g>
<g id="n074"><use href="#g" transform="translate(23 805) scale(2.5)"/></g>
<g id="n075"><use href="#g" transform="translate(247 879) scale(5)"/></g>
<g id="n076"><use href="#G" transform="translate(329 883) scale(8)"/></g>
<g id="n077"><use href="#G" transform="translate(326 910) scale(16)"/></g>
<g id="n078"><use href="#g" transform="translate(458 917) scale(3)"/></g>
<g id="n079"><use href="#g" transform="translate(523 875) scale(2)"/></g>
<g id="n080"><use href="#g" transform="translate(532 958) scale(2)"/></g>
<g id="n081"><use href="#g" transform="translate(238 985) scale(2)"/></g>
<g id="n082"><use href="#g" transform="translate(268 1010) scale(3)"/></g>
<g id="n083"><use href="#G" transform="translate(150 1020) scale(7)"/></g>
<g id="n084"><use href="#G" transform="translate(167 1057) scale(9)"/></g>
<g id="n085"><use href="#G" transform="translate(335 1098) scale(8)"/></g>
<g id="n086"><use href="#G" transform="translate(486 1033) scale(6)"/></g>
<g id="n087"><use href="#G" transform="translate(780 385) scale(6)"/></g>
<g id="n088"><use href="#g" transform="translate(742 415) scale(5)"/></g>
<g id="n089"><use href="#g" transform="translate(713 430) scale(5)"/></g>
<g id="n090"><use href="#G" transform="translate(626 416) scale(15)"/></g>
<g id="n091"><use href="#g" transform="translate(581 433) scale(4)"/></g>
<g id="n092"><use href="#g" transform="translate(758 443) scale(5)"/></g>
<g id="n093"><use href="#G" transform="translate(609 463) scale(15)"/></g>
<g id="n094"><use href="#G" transform="translate(556 487) scale(9)"/></g>
<g id="n095"><use href="#g" transform="translate(644 497) scale(5)"/></g>
<g id="n096"><use href="#G" transform="translate(727 500) scale(14)"/></g>
<g id="n097"><use href="#g" transform="translate(760 493) scale(2)"/></g>
<g id="n098"><use href="#G" transform="translate(887 525) scale(19)"/></g>
<g id="n099"><use href="#G" transform="translate(556 522) scale(6)"/></g>
<g id="n100"><use href="#G" transform="translate(587 531) scale(14)"/></g>
<g id="n101"><use href="#G" transform="translate(633 555) scale(19)"/></g>
<g id="n102"><use href="#G" transform="translate(752 551) scale(13)"/></g>
<g id="n103"><use href="#g" transform="translate(739 572) scale(3)"/></g>
<g id="n104"><use href="#g" transform="translate(702 583) scale(2)"/></g>
<g id="n105"><use href="#g" transform="translate(736 593) scale(2)"/></g>
<g id="n106"><use href="#g" transform="translate(858 596) scale(2)"/></g>
<g id="n107"><use href="#G" transform="translate(823 614) scale(6)"/></g>
<g id="n108"><use href="#g" transform="translate(753 618) scale(2)"/></g>
<g id="n109"><use href="#g" transform="translate(637 625) scale(5)"/></g>
<g id="n110"><use href="#G" transform="translate(892 549) scale(7)"/></g>
<g id="n111"><use href="#g" transform="translate(922 472) scale(4)"/></g>
<g id="n112"><use href="#G" transform="translate(927 499) scale(6)"/></g>
<g id="n113"><use href="#G" transform="translate(953 496) scale(15)"/></g>
<g id="n114"><use href="#G" transform="translate(1003 497) scale(15)"/></g>
<g id="n115"><use href="#g" transform="translate(957 617) scale(5)"/></g>
<g id="n116"><use href="#G" transform="translate(911 618) scale(8)"/></g>
<g id="n117"><use href="#G" transform="translate(1137 372) scale(14)"/></g>
<g id="n118"><use href="#g" transform="translate(1199 376) scale(4)"/></g>
<g id="n119"><use href="#g" transform="translate(1088 268) scale(3)"/></g>
<g id="n120"><use href="#g" transform="translate(1221 274) scale(3)"/></g>
<g id="n121"><use href="#g" transform="translate(1196 328) scale(5)"/></g>
<g id="n122"><use href="#g" transform="translate(1253 360) scale(5)"/></g>
<g id="n123"><use href="#g" transform="translate(1306 601) scale(4)"/></g>
<g id="n124"><use href="#G" transform="translate(551 646) scale(13)"/></g>
<g id="n125"><use href="#G" transform="translate(574 675) scale(16)"/></g>
<g id="n126"><use href="#g" transform="translate(702 671) scale(5)"/></g>
<g id="n127"><use href="#g" transform="translate(735 667) scale(4)"/></g>
<g id="n128"><use href="#g" transform="translate(678 694) scale(3)"/></g>
<g id="n129"><use href="#g" transform="translate(771 696) scale(4)"/></g>
<g id="n130"><use href="#g" transform="translate(819 700) scale(3)"/></g>
<g id="n131"><use href="#G" transform="translate(862 635) scale(6)"/></g>
<g id="n132"><use href="#G" transform="translate(892 633) scale(14)"/></g>
<g id="n133"><use href="#g" transform="translate(928 648) scale(3)"/></g>
<g id="n134"><use href="#g" transform="translate(937 619) scale(4)"/></g>
<g id="n135"><use href="#G" transform="translate(1017 664) scale(10)"/></g>
<g id="n136"><use href="#g" transform="translate(1043 676) scale(5)"/></g>
<g id="n137"><use href="#G" transform="translate(1000 685) scale(6)"/></g>
<g id="n138"><use href="#g" transform="translate(1025 721) scale(5)"/></g>
<g id="n139"><use href="#g" transform="translate(1043 744) scale(5)"/></g>
<g id="n140"><use href="#g" transform="translate(946 737) scale(3)"/></g>
<g id="n141"><use href="#g" transform="translate(1004 749) scale(2.5)"/></g>
<g id="n142"><use href="#G" transform="translate(680 727) scale(20)"/></g>
<g id="n143"><use href="#G" transform="translate(659 759) scale(6)"/></g>
<g id="n144"><use href="#G" transform="translate(679 772) scale(7)"/></g>
<g id="n145"><use href="#G" transform="translate(737 766) scale(6)"/></g>
<g id="n146"><use href="#G" transform="translate(776 745) scale(6)"/></g>
<g id="n147"><use href="#g" transform="translate(861 760) scale(3)"/></g>
<g id="n148"><use href="#g" transform="translate(891 761) scale(3)"/></g>
<g id="n149"><use href="#G" transform="translate(904 738) scale(6)"/></g>
<g id="n150"><use href="#g" transform="translate(647 781) scale(3)"/></g>
<g id="n151"><use href="#g" transform="translate(701 784) scale(2)"/></g>
<g id="n152"><use href="#g" transform="translate(837 793) scale(4)"/></g>
<g id="n153"><use href="#G" transform="translate(935 791) scale(13)"/></g>
<g id="n154"><use href="#G" transform="translate(910 813) scale(13)"/></g>
<g id="n155"><use href="#G" transform="translate(582 794) scale(11)"/></g>
<g id="n156"><use href="#g" transform="translate(545 829) scale(5)"/></g>
<g id="n157"><use href="#g" transform="translate(556 823) scale(3)"/></g>
<g id="n158"><use href="#G" transform="translate(792 811) scale(13)"/></g>
<g id="n159"><use href="#G" transform="translate(677 831) scale(9)"/></g>
<g id="n160"><use href="#g" transform="translate(716 829) scale(3)"/></g>
<g id="n161"><use href="#G" transform="translate(646 857) scale(19)"/></g>
<g id="n162"><use href="#g" transform="translate(559 850) scale(3)"/></g>
<g id="n163"><use href="#G" transform="translate(870 835) scale(9)"/></g>
<g id="n164"><use href="#G" transform="translate(938 835) scale(8)"/></g>
<g id="n165"><use href="#G" transform="translate(894 867) scale(10)"/></g>
<g id="n166"><use href="#G" transform="translate(921 864) scale(9)"/></g>
<g id="n167"><use href="#G" transform="translate(975 862) scale(6)"/></g>
<g id="n168"><use href="#g" transform="translate(751 884) scale(3)"/></g>
<g id="n169"><use href="#g" transform="translate(743 912) scale(2.5)"/></g>
<g id="n170"><use href="#g" transform="translate(548 921) scale(2.5)"/></g>
<g id="n171"><use href="#g" transform="translate(662 920) scale(2)"/></g>
<g id="n172"><use href="#g" transform="translate(616 932) scale(2)"/></g>
<g id="n173"><use href="#g" transform="translate(914 931) scale(5)"/></g>
<g id="n174"><use href="#g" transform="translate(888 928) scale(4)"/></g>
<g id="n175"><use href="#g" transform="translate(988 950) scale(3)"/></g>
<g id="n176"><use href="#g" transform="translate(880 980) scale(2.5)"/></g>
<g id="n177"><use href="#g" transform="translate(624 995) scale(4)"/></g>
<g id="n178"><use href="#G" transform="translate(832 1008) scale(9)"/></g>
<g id="n179"><use href="#g" transform="translate(808 1013) scale(5)"/></g>
<g id="n180"><use href="#G" transform="translate(759 1065) scale(6)"/></g>
<g id="n181"><use href="#g" transform="translate(1019 1012) scale(2.5)"/></g>
<g id="n182"><use href="#g" transform="translate(968 1052) scale(2)"/></g>
<g id="n183"><use href="#G" transform="translate(1026 1058) scale(6)"/></g>
<g id="n184"><use href="#g" transform="translate(1064 1079) scale(2)"/></g>
<g id="n185"><use href="#g" transform="translate(730 1129) scale(3)"/></g>
<g id="n186"><use href="#G" transform="translate(1106 662) scale(6)"/></g>
<g id="n187"><use href="#g" transform="translate(1157 681) scale(3)"/></g>
<g id="n188"><use href="#g" transform="translate(1097 701) scale(2)"/></g>
<g id="n189"><use href="#g" transform="translate(1375 647) scale(4)"/></g>
<g id="n190"><use href="#g" transform="translate(1422 695) scale(4)"/></g>
<g id="n191"><use href="#G" transform="translate(1123 710) scale(14)"/></g>
<g id="n192"><use href="#g" transform="translate(1199 707) scale(3)"/></g>
<g id="n193"><use href="#g" transform="translate(1206 765) scale(2)"/></g>
<g id="n194"><use href="#g" transform="translate(1094 769) scale(4)"/></g>
<g id="n195"><use href="#G" transform="translate(1120 837) scale(7)"/></g>
<g id="n196"><use href="#G" transform="translate(1176 962) scale(10)"/></g>
<g id="n197"><use href="#g" transform="translate(1262 968) scale(3)"/></g>
<g id="n198"><use href="#g" transform="translate(1330 972) scale(2)"/></g>
<g id="n199"><use href="#g" transform="translate(1230 997) scale(2)"/></g>
<g id="n200"><use href="#W" transform="translate(549 384) scale(6)"/></g>
<g id="n201"><use href="#W" transform="translate(1108 747) scale(9)"/></g>
<g id="n202"><use href="#G" transform="translate(1090 725) scale(7)"/><circle cx="1090" cy="725" r="1.5" fill="#ffffff"/></g>
<g id="n203"><use href="#r" transform="translate(646 42) scale(2)"/></g>
<g id="n204"><use href="#r" transform="translate(882 44) scale(2)"/></g>
<g id="n205"><use href="#r" transform="translate(721 215) scale(2.5)"/></g>
<g id="n206"><use href="#r" transform="translate(955 158) scale(2.5)"/></g>
<g id="n207"><use href="#r" transform="translate(901 196) scale(2)"/></g>
<g id="n208"><use href="#r" transform="translate(923 267) scale(4)"/></g>
<g id="n209"><use href="#r" transform="translate(847 259) scale(2)"/></g>
<g id="n210"><use href="#r" transform="translate(842 295) scale(3)"/></g>
<g id="n211"><use href="#r" transform="translate(448 235) scale(2.5)"/></g>
<g id="n212"><use href="#r" transform="translate(396 250) scale(2.5)"/></g>
<g id="n213"><use href="#r" transform="translate(454 296) scale(2.5)"/></g>
<g id="n214"><use href="#r" transform="translate(410 317) scale(2)"/></g>
<g id="n215"><use href="#R" transform="translate(434 320) scale(6)"/></g>
<g id="n216"><use href="#r" transform="translate(200 329) scale(2.5)"/></g>
<g id="n217"><use href="#r" transform="translate(209 391) scale(2.5)"/></g>
<g id="n218"><use href="#r" transform="translate(473 385) scale(2.5)"/></g>
<g id="n219"><use href="#r" transform="translate(422 186) scale(2.5)"/></g>
<g id="n220"><use href="#r" transform="translate(494 430) scale(2)"/></g>
<g id="n221"><use href="#r" transform="translate(342 438) scale(2.5)"/></g>
<g id="n222"><use href="#r" transform="translate(372 437) scale(2.5)"/></g>
<g id="n223"><use href="#r" transform="translate(314 445) scale(2)"/></g>
<g id="n224"><use href="#R" transform="translate(402 445) scale(9)"/></g>
<g id="n225"><use href="#r" transform="translate(286 478) scale(2.5)"/></g>
<g id="n226"><use href="#r" transform="translate(315 483) scale(2.5)"/></g>
<g id="n227"><use href="#R" transform="translate(350 486) scale(7)"/></g>
<g id="n228"><use href="#r" transform="translate(422 487) scale(2)"/></g>
<g id="n229"><use href="#r" transform="translate(472 485) scale(3)"/></g>
<g id="n230"><use href="#r" transform="translate(530 471) scale(2)"/></g>
<g id="n231"><use href="#r" transform="translate(201 524) scale(2)"/></g>
<g id="n232"><use href="#r" transform="translate(397 516) scale(4)"/></g>
<g id="n233"><use href="#r" transform="translate(230 533) scale(3)"/></g>
<g id="n234"><use href="#r" transform="translate(109 561) scale(2.5)"/></g>
<g id="n235"><use href="#r" transform="translate(312 541) scale(2)"/></g>
<g id="n236"><use href="#r" transform="translate(478 565) scale(2.5)"/></g>
<g id="n237"><use href="#r" transform="translate(558 544) scale(2.5)"/></g>
<g id="n238"><use href="#r" transform="translate(39 605) scale(2.5)"/></g>
<g id="n239"><use href="#r" transform="translate(84 605) scale(2)"/></g>
<g id="n240"><use href="#r" transform="translate(196 605) scale(2)"/></g>
<g id="n241"><use href="#r" transform="translate(312 604) scale(2)"/></g>
<g id="n242"><use href="#r" transform="translate(433 607) scale(2)"/></g>
<g id="n243"><use href="#r" transform="translate(7 659) scale(2.5)"/></g>
<g id="n244"><use href="#r" transform="translate(98 646) scale(2)"/></g>
<g id="n245"><use href="#r" transform="translate(89 690) scale(2.5)"/></g>
<g id="n246"><use href="#r" transform="translate(291 642) scale(2.5)"/></g>
<g id="n247"><use href="#r" transform="translate(368 645) scale(3)"/></g>
<g id="n248"><use href="#r" transform="translate(469 648) scale(2)"/></g>
<g id="n249"><use href="#r" transform="translate(461 675) scale(2.5)"/></g>
<g id="n250"><use href="#r" transform="translate(122 777) scale(2)"/></g>
<g id="n251"><use href="#R" transform="translate(329 840) scale(5)"/></g>
<g id="n252"><use href="#r" transform="translate(367 839) scale(2)"/></g>
<g id="n253"><use href="#r" transform="translate(280 852) scale(4)"/></g>
<g id="n254"><use href="#R" transform="translate(286 895) scale(6)"/></g>
<g id="n255"><use href="#r" transform="translate(242 904) scale(4)"/></g>
<g id="n256"><use href="#r" transform="translate(189 922) scale(4)"/></g>
<g id="n257"><use href="#r" transform="translate(424 882) scale(2)"/></g>
<g id="n258"><use href="#r" transform="translate(487 906) scale(2.5)"/></g>
<g id="n259"><use href="#r" transform="translate(45 886) scale(2.5)"/></g>
<g id="n260"><use href="#r" transform="translate(56 911) scale(4)"/></g>
<g id="n261"><use href="#r" transform="translate(68 936) scale(4)"/></g>
<g id="n262"><use href="#r" transform="translate(109 977) scale(2)"/></g>
<g id="n263"><use href="#r" transform="translate(325 1018) scale(2.5)"/></g>
<g id="n264"><use href="#r" transform="translate(518 1010) scale(2.5)"/></g>
<g id="n265"><use href="#r" transform="translate(375 1047) scale(2.5)"/></g>
<g id="n266"><use href="#R" transform="translate(553 1036) scale(6)"/></g>
<g id="n267"><use href="#R" transform="translate(706 411) scale(8)"/></g>
<g id="n268"><use href="#r" transform="translate(642 402) scale(2)"/></g>
<g id="n269"><use href="#r" transform="translate(674 435) scale(3)"/></g>
<g id="n270"><use href="#r" transform="translate(594 450) scale(2)"/></g>
<g id="n271"><use href="#r" transform="translate(875 417) scale(2)"/></g>
<g id="n272"><use href="#r" transform="translate(666 477) scale(4)"/></g>
<g id="n273"><use href="#r" transform="translate(699 483) scale(3)"/></g>
<g id="n274"><use href="#r" transform="translate(851 494) scale(4)"/></g>
<g id="n275"><use href="#r" transform="translate(888 486) scale(3)"/></g>
<g id="n276"><use href="#r" transform="translate(613 497) scale(2)"/></g>
<g id="n277"><use href="#r" transform="translate(850 530) scale(2)"/></g>
<g id="n278"><use href="#R" transform="translate(546 583) scale(6)"/></g>
<g id="n279"><use href="#R" transform="translate(779 553) scale(15)"/></g>
<g id="n280"><use href="#R" transform="translate(804 565) scale(7)"/></g>
<g id="n281"><use href="#r" transform="translate(915 558) scale(2.5)"/></g>
<g id="n282"><use href="#r" transform="translate(887 584) scale(2.5)"/></g>
<g id="n283"><use href="#R" transform="translate(693 627) scale(10)"/><circle cx="693" cy="627" r="1.3" fill="#ffffff"/></g>
<g id="n284"><use href="#r" transform="translate(653 690) scale(2)"/></g>
<g id="n285"><use href="#R" transform="translate(560 744) scale(10)"/></g>
<g id="n286"><use href="#R" transform="translate(702 742) scale(10)"/></g>
<g id="n287"><use href="#r" transform="translate(592 765) scale(3)"/></g>
<g id="n288"><use href="#r" transform="translate(754 788) scale(3)"/></g>
<g id="n289"><use href="#R" transform="translate(845 731) scale(6)"/></g>
<g id="n290"><use href="#R" transform="translate(866 792) scale(13)"/></g>
<g id="n291"><use href="#r" transform="translate(935 770) scale(2.5)"/></g>
<g id="n292"><use href="#R" transform="translate(971 764) scale(7)"/></g>
<g id="n293"><use href="#r" transform="translate(968 752) scale(2)"/></g>
<g id="n294"><use href="#r" transform="translate(951 670) scale(3)"/></g>
<g id="n295"><use href="#R" transform="translate(984 623) scale(8)"/></g>
<g id="n296"><use href="#r" transform="translate(1004 641) scale(2)"/></g>
<g id="n297"><use href="#R" transform="translate(1064 695) scale(7)"/></g>
<g id="n298"><use href="#r" transform="translate(1021 849) scale(3)"/></g>
<g id="n299"><use href="#r" transform="translate(1007 869) scale(2)"/></g>
<g id="n300"><use href="#r" transform="translate(549 856) scale(2)"/></g>
<g id="n301"><use href="#r" transform="translate(699 854) scale(2.5)"/></g>
<g id="n302"><use href="#r" transform="translate(714 859) scale(2)"/></g>
<g id="n303"><use href="#R" transform="translate(793 888) scale(5)"/></g>
<g id="n304"><use href="#R" transform="translate(893 907) scale(13)"/></g>
<g id="n305"><use href="#r" transform="translate(954 898) scale(2)"/></g>
<g id="n306"><use href="#r" transform="translate(847 925) scale(2)"/></g>
<g id="n307"><use href="#r" transform="translate(822 976) scale(3)"/></g>
<g id="n308"><use href="#r" transform="translate(827 991) scale(2)"/></g>
<g id="n309"><use href="#r" transform="translate(575 962) scale(2)"/></g>
<g id="n310"><use href="#r" transform="translate(675 993) scale(2.5)"/></g>
<g id="n311"><use href="#r" transform="translate(759 1010) scale(2)"/></g>
<g id="n312"><use href="#r" transform="translate(810 1085) scale(2)"/></g>
<g id="n313"><use href="#r" transform="translate(878 1063) scale(2)"/></g>
<g id="n314"><use href="#r" transform="translate(978 1007) scale(2)"/></g>
<g id="n315"><use href="#r" transform="translate(1062 1025) scale(2)"/></g>
<g id="n316"><use href="#R" transform="translate(1100 524) scale(8)"/></g>
<g id="n317"><use href="#r" transform="translate(1094 563) scale(4)"/></g>
<g id="n318"><use href="#r" transform="translate(1007 568) scale(4)"/></g>
<g id="n319"><use href="#r" transform="translate(972 525) scale(2.5)"/></g>
<g id="n320"><use href="#R" transform="translate(1206 565) scale(9)"/></g>
<g id="n321"><use href="#R" transform="translate(1258 590) scale(8)"/></g>
<g id="n322"><use href="#r" transform="translate(1251 475) scale(3)"/></g>
<g id="n323"><use href="#r" transform="translate(1280 417) scale(2)"/></g>
<g id="n324"><use href="#r" transform="translate(1398 500) scale(3)"/></g>
<g id="n325"><use href="#r" transform="translate(1338 545) scale(4)"/></g>
<g id="n326"><use href="#R" transform="translate(1166 648) scale(9)"/><circle cx="1166" cy="648" r="1.3" fill="#ffffff"/></g>
<g id="n327"><use href="#r" transform="translate(1194 643) scale(2.5)"/></g>
<g id="n328"><use href="#r" transform="translate(1270 635) scale(2)"/></g>
<g id="n329"><use href="#r" transform="translate(1217 744) scale(3)"/></g>
<g id="n330"><use href="#r" transform="translate(1131 782) scale(4)"/></g>
<g id="n331"><use href="#r" transform="translate(1185 820) scale(3)"/></g>
<g id="n332"><use href="#r" transform="translate(1223 815) scale(3)"/></g>
<g id="n333"><use href="#r" transform="translate(1262 821) scale(3)"/></g>
<g id="n334"><use href="#r" transform="translate(1197 845) scale(3)"/></g>
<g id="n335"><use href="#r" transform="translate(1252 849) scale(2)"/></g>
<g id="n336"><use href="#r" transform="translate(1232 868) scale(3)"/></g>
<g id="n337"><use href="#r" transform="translate(1102 863) scale(2.5)"/></g>
<g id="n338"><use href="#g" transform="translate(702 75) scale(3.5)"/><use href="#O" transform="translate(702 75) scale(3.5)"/></g>
<g id="n339"><use href="#g" transform="translate(110 384) scale(3.5)"/><use href="#O" transform="translate(110 384) scale(3.5)"/></g>
<g id="n340"><use href="#g" transform="translate(129 439) scale(3.5)"/><use href="#O" transform="translate(129 439) scale(3.5)"/></g>
<g id="n341"><use href="#g" transform="translate(814 273) scale(3)"/><use href="#O" transform="translate(814 273) scale(3)"/></g>
<g id="n342"><use href="#G" transform="translate(1129 310) scale(14)"/><use href="#O" transform="translate(1129 310) scale(14)"/></g>
<g id="n343"><use href="#g" transform="translate(1079 440) scale(4)"/><use href="#O" transform="translate(1079 440) scale(4)"/></g>
<g id="n344"><use href="#g" transform="translate(709 546) scale(6)"/><use href="#O" transform="translate(709 546) scale(6)"/></g>
<g id="n345"><use href="#g" transform="translate(796 850) scale(3)"/><use href="#O" transform="translate(796 850) scale(3)"/></g>
<g id="n346"><use href="#G" transform="translate(1218 1033) scale(9)"/><use href="#O" transform="translate(1218 1033) scale(9)"/></g>
<g id="n347"><use href="#G" transform="translate(1117 604) scale(12)"/><use href="#O" transform="translate(1117 604) scale(12)"/></g>
<g id="n348"><use href="#G" transform="translate(229 456) scale(21)"/><use href="#M" transform="translate(229 456) scale(21)"/></g>
<g id="n349"><use href="#G" transform="translate(342 526) scale(8)"/><use href="#M" transform="translate(342 526) scale(8)"/></g>
<g id="n350"><use href="#G" transform="translate(470 740) scale(23)"/><use href="#M" transform="translate(470 740) scale(23)"/></g>
<g id="n351"><use href="#G" transform="translate(329 766) scale(17)"/><use href="#M" transform="translate(329 766) scale(17)"/><use href="#r" transform="translate(320 771) scale(3)"/></g>
<g id="n352"><use href="#R" transform="translate(552 763) scale(14)"/><use href="#M" transform="translate(552 763) scale(14)"/></g>
<g id="n353"><use href="#g" transform="translate(595 737) scale(5)"/><use href="#M" transform="translate(595 737) scale(5)"/></g>
<g id="n354"><use href="#G" transform="translate(718 751) scale(8)"/><use href="#M" transform="translate(718 751) scale(8)"/></g>
<g id="n355"><circle cx="739" cy="722" r="11" fill="#c9df80" fill-opacity=".5"/><use href="#M" transform="translate(739 722) scale(11)"/></g>
<g id="n356"><use href="#g" transform="translate(608 838) scale(3)"/><use href="#M" transform="translate(608 838) scale(3)"/></g>
<g id="n357"><use href="#g" transform="translate(703 898) scale(4)"/><use href="#M" transform="translate(703 898) scale(4)"/></g>
<g id="n358"><use href="#G" transform="translate(826 897) scale(10)"/><use href="#M" transform="translate(826 897) scale(10)"/></g>
<g id="n359"><use href="#G" transform="translate(968 705) scale(10)"/><use href="#M" transform="translate(968 705) scale(10)"/></g>
<g id="n360"><use href="#P" transform="translate(716 5) scale(1.5)"/></g>
<g id="n361"><use href="#P" transform="translate(708 12) scale(1.5)"/></g>
<g id="n362"><use href="#P" transform="translate(746 24) scale(1.5)"/></g>
<g id="n363"><use href="#P" transform="translate(653 245) scale(1.5)"/></g>
<g id="n364"><use href="#P" transform="translate(654 294) scale(1.5)"/></g>
<g id="n365"><use href="#P" transform="translate(168 327) scale(1.5)"/></g>
<g id="n366"><use href="#P" transform="translate(517 291) scale(1.5)"/></g>
<g id="n367"><use href="#P" transform="translate(394 381) scale(1.5)"/></g>
<g id="n368"><use href="#P" transform="translate(361 380) scale(1.5)"/></g>
<g id="n369"><use href="#P" transform="translate(399 540) scale(1.5)"/></g>
<g id="n370"><use href="#P" transform="translate(423 571) scale(1.5)"/></g>
<g id="n371"><use href="#P" transform="translate(144 709) scale(1.5)"/></g>
<g id="n372"><use href="#P" transform="translate(20 837) scale(1.5)"/></g>
<g id="n373"><use href="#P" transform="translate(213 1076) scale(1.5)"/></g>
<g id="n374"><use href="#P" transform="translate(295 1077) scale(1.5)"/></g>
<g id="n375"><use href="#P" transform="translate(786 977) scale(1.5)"/></g>
</g>
<g id="labels">
<g id="l-orekhov"><rect class="bg" x="928" y="86" width="358" height="33"/><text class="lb" x="932" y="111.9" font-size="27.65" textLength="349" lengthAdjust="spacingAndGlyphs">ALEXANDER N OREKHOV</text></g>
<g id="l-selvin"><rect class="bg" x="885" y="218" width="273" height="33"/><text class="lb" x="889" y="243.9" font-size="27.65" textLength="264" lengthAdjust="spacingAndGlyphs">ELIZABETH SELVIN</text></g>
<g id="l-weber"><rect class="bg" x="251" y="316" width="272" height="33"/><text class="lb" x="255" y="342" font-size="27.84" textLength="263" lengthAdjust="spacingAndGlyphs">CHRISTIAN WEBER</text></g>
<g id="l-soliman"><rect class="bg" x="815" y="325" width="301" height="33"/><text class="lb" x="819" y="351" font-size="27.8" textLength="292" lengthAdjust="spacingAndGlyphs">ELSAYED Z SOLIMAN</text></g>
<g id="l-kaufman"><rect class="bg" x="428" y="398" width="237" height="30"/><text class="lb" x="432" y="422.1" font-size="25.35" textLength="228" lengthAdjust="spacingAndGlyphs">JOEL D KAUFMAN</text></g>
<g id="l-coresh"><rect class="bg" x="821" y="432" width="235" height="34"/><text class="lb" x="825" y="459.3" font-size="28.8" textLength="226" lengthAdjust="spacingAndGlyphs">JOSEF CORESH</text></g>
<g id="l-lutsey"><rect class="bg" x="1086" y="461" width="269" height="33"/><text class="lb" x="1090" y="487" font-size="27.84" textLength="260" lengthAdjust="spacingAndGlyphs">PAMELA L LUTSEY</text></g>
<g id="l-gottesman"><rect class="bg" x="237" y="495" width="330" height="31"/><text class="lb" x="241" y="519.2" font-size="25.7" textLength="321" lengthAdjust="spacingAndGlyphs">REBECCA F GOTTESMAN</text></g>
<g id="l-diezroux"><rect class="bg" x="660" y="500" width="233" height="30"/><text class="lb" x="664" y="524.1" font-size="25.35" textLength="224" lengthAdjust="spacingAndGlyphs">ANA V DIEZ ROUX</text></g>
<g id="l-ballantyne"><rect class="bg" x="951" y="534" width="365" height="33"/><text class="lb" x="955" y="559.9" font-size="27.65" textLength="356" lengthAdjust="spacingAndGlyphs">CHRISTIE M BALLANTYNE</text></g>
<g id="l-alonso"><rect class="bg" x="372" y="574" width="270" height="36"/><text class="lb" x="376" y="602.6" font-size="29.57" textLength="261" lengthAdjust="spacingAndGlyphs">ALVARO ALONSO</text></g>
<g id="l-budoff"><rect class="bg" x="1026" y="598" width="318" height="36"/><text class="lb" x="1030" y="626.7" font-size="29.76" textLength="309" lengthAdjust="spacingAndGlyphs">MATTHEW J BUDOFF</text></g>
<g id="l-folsom"><rect class="bg" x="621" y="636" width="273" height="34"/><text class="lb" x="625" y="663.2" font-size="28.6" textLength="264" lengthAdjust="spacingAndGlyphs">AARON R FOLSOM</text></g>
<g id="l-blumenthal"><rect class="bg" x="1250" y="659" width="312" height="31"/><text class="lb" x="1254" y="683.2" font-size="25.7" textLength="303" lengthAdjust="spacingAndGlyphs">ROGER S BLUMENTHAL</text></g>
<g id="l-matsushita"><rect class="bg" x="198" y="680" width="322" height="32"/><text class="lb" x="202" y="705.5" font-size="26.5" textLength="313" lengthAdjust="spacingAndGlyphs">KUNIHIRO MATSUSHITA</text></g>
<g id="l-heiss"><rect class="bg" x="706" y="701" width="222" height="30"/><text class="lb" x="710" y="725.1" font-size="25.35" textLength="213" lengthAdjust="spacingAndGlyphs">GERARDO HEISS</text></g>
<g id="l-nasir"><rect class="bg" x="1126" y="710" width="245" height="33"/><text class="lb" x="1130" y="735.9" font-size="27.65" textLength="236" lengthAdjust="spacingAndGlyphs">KHURRAM NASIR</text></g>
<g id="l-bluemke"><rect class="bg" x="462" y="785" width="268" height="33"/><text class="lb" x="466" y="810.9" font-size="27.65" textLength="259" lengthAdjust="spacingAndGlyphs">DAVID A BLUEMKE</text></g>
<g id="l-blaha"><rect class="bg" x="981" y="781" width="252" height="32"/><text class="lb" x="985" y="806.5" font-size="26.5" textLength="243" lengthAdjust="spacingAndGlyphs">MICHAEL J BLAHA</text></g>
<g id="l-mcclelland"><rect class="bg" x="748" y="814" width="308" height="30"/><text class="lb" x="752" y="838.1" font-size="25.35" textLength="299" lengthAdjust="spacingAndGlyphs">ROBYN L MCCLELLAND</text></g>
<g id="l-michos"><rect class="bg" x="1031" y="876" width="221" height="33"/><text class="lb" x="1035" y="901.9" font-size="27.65" textLength="212" lengthAdjust="spacingAndGlyphs">ERIN D MICHOS</text></g>
<g id="l-lima"><rect class="bg" x="754" y="925" width="219" height="33"/><text class="lb" x="758" y="950.9" font-size="27.65" textLength="210" lengthAdjust="spacingAndGlyphs">JOAO A C LIMA</text></g>
<g id="l-post"><rect class="bg" x="696" y="1017" width="213" height="32"/><text class="lb" x="700" y="1042.5" font-size="26.5" textLength="204" lengthAdjust="spacingAndGlyphs">WENDY S POST</text></g>
</g>
</g>
</svg>
